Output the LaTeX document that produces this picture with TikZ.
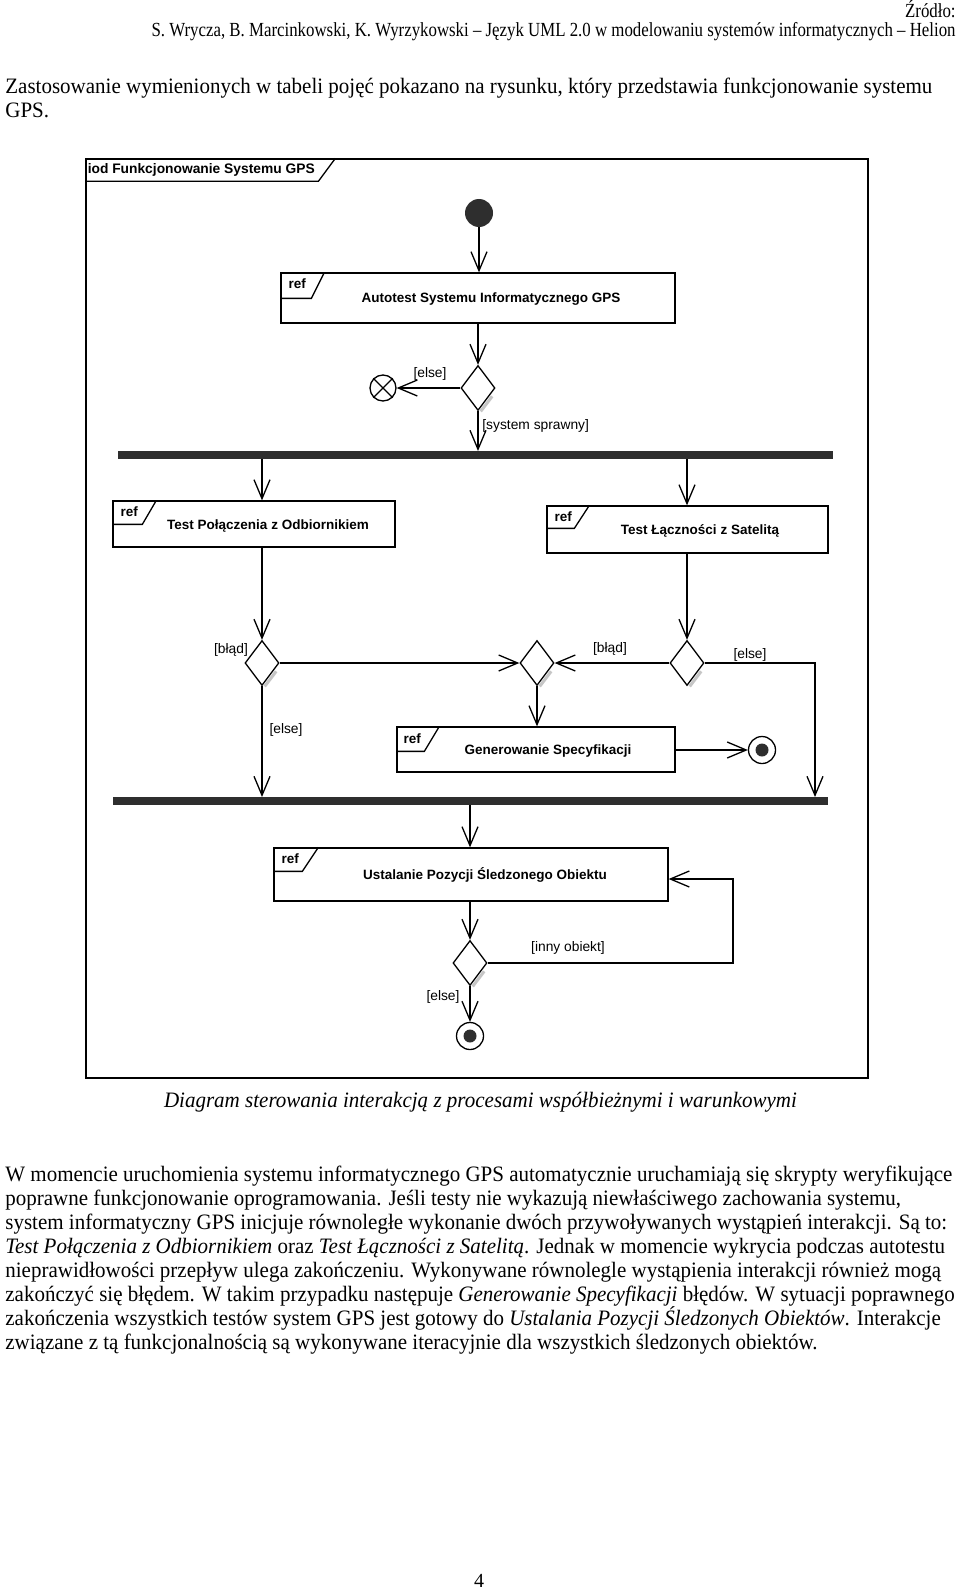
\documentclass[tikz,border=0pt]{standalone}
\usepackage{fontspec}
\setmainfont{Liberation Serif}
\newfontfamily\dg{Liberation Sans}
\usepackage{graphicx}
\usetikzlibrary{arrows.meta,shapes.geometric,calc}
\newsavebox\fitbox
\newlength\fitlen
\newcommand\fitw[2]{\sbox\fitbox{#2}\fitlen=\wd\fitbox\pgfmathsetmacro\fitr{#1/\fitlen}\global\let\lastfitr\fitr\scalebox{\fitr}[1]{\usebox\fitbox}}
\definecolor{barc}{HTML}{2E2E2E}
\tikzset{
  ln/.style={line width=0.65pt},
  arr/.style={ln, -{Straight Barb[length=9.5pt,width=8pt]}},
  refbox/.style={draw, ln, rectangle, inner sep=0pt, fill=white},
  dec/.style={draw, ln, diamond, inner sep=0pt, minimum width=17pt, minimum height=22.5pt, fill=white},
  shadowline/.style={gray!45, line width=1.5pt},
  bar/.style={fill=barc, draw=none, inner sep=0pt, minimum height=3.6pt},
  title/.style={font=\dg\bfseries\fontsize{6.75}{7.75}\selectfont, inner sep=0pt},
  guard/.style={font=\dg\fontsize{6.9}{8}\selectfont, inner sep=0pt},
  body/.style={anchor=base west, inner sep=0pt, font=\fontsize{11}{13}\selectfont},
  hdr/.style={anchor=base east, inner sep=0pt, font=\fontsize{10}{12}\selectfont},
}
\begin{document}
\begin{tikzpicture}[x=0.5pt,y=-0.5pt]
\fill[white] (0,0) rectangle (960,1589);
\useasboundingbox (0,0) rectangle (960,1589);

% ---------- page text ----------
\node[hdr] (src2) at (956,37) {\fitw{402}{S. Wrycza, B. Marcinkowski, K. Wyrzykowski – Język UML 2.0 w modelowaniu systemów informatycznych – Helion}};
\node[hdr] (src1) at (956,18) {\scalebox{\lastfitr}[1]{Źródło:}};

\node[body] (p1a) at (5,94) {\fitw{463.5}{Zastosowanie wymienionych w tabeli pojęć pokazano na rysunku, który przedstawia funkcjonowanie systemu}};
\node[body] (p1b) at (5,118) {\scalebox{\lastfitr}[1]{GPS.}};

% ---------- diagram ----------
\node[draw, ln, rectangle, inner sep=0pt, minimum width=391pt, minimum height=459.5pt] (frame) at (477,618.5) {};
\draw[ln] (frame.north west) ++(250,0) -- ++(-17,23) -- ++(-233,0);
\node[title, anchor=west, font=\dg\bfseries\fontsize{6.9}{8}\selectfont] (ftitle) at ($(frame.north west)+(2,12)$) {iod Funkcjonowanie Systemu GPS};

% initial node
\node[circle, fill=barc, minimum size=14pt, inner sep=0pt] (init) at (479,213) {};

% Autotest
\node[refbox, minimum width=197pt, minimum height=25pt] (auto) at (478,298) {};
\draw[ln] (auto.north west) ++(44,0) -- ++(-13,26) -- ++(-31,0);
\node[title] (autor) at ($(auto.north west)+(17,11)$) {ref};
\node[title] (autot) at ($(auto.center)+(13,1)$) {Autotest Systemu Informatycznego GPS};

% decision 1
\node[dec] (dec1) at (478,388) {};
\draw[shadowline] ($(dec1.east)!0.3!(dec1.south)+(1.8,1.4)$) -- ($(dec1.east)!0.95!(dec1.south)+(1.8,1.4)$);
\node[draw, ln, circle, minimum size=13pt, inner sep=0pt] (ff) at (383,388) {};
\draw[ln] (ff.north east) -- (ff.south west) (ff.north west) -- (ff.south east);
\node[guard] (g1) at (430,374) {[else]};
\node[guard, anchor=west] (g2) at (482,426) {[system sprawny]};

% fork 1
\node[bar, minimum width=357.5pt] (fork1) at (475.5,455) {};

% Test Połączenia
\node[refbox, minimum width=141pt, minimum height=23pt] (tp) at (254,524) {};
\draw[ln] (tp.north west) ++(44,0) -- ++(-14,24) -- ++(-30,0);
\node[title] (tpr) at ($(tp.north west)+(17,11)$) {ref};
\node[title] (tpt) at ($(tp.center)+(14,2)$) {Test Połączenia z Odbiornikiem};

% Test Łączności
\node[refbox, minimum width=140.5pt, minimum height=23.5pt] (tl) at (687.5,529.5) {};
\draw[ln] (tl.north west) ++(43,0) -- ++(-15,23) -- ++(-28,0);
\node[title] (tlr) at ($(tl.north west)+(17,11)$) {ref};
\node[title] (tlt) at ($(tl.center)+(12.5,1)$) {Test Łączności z Satelitą};

% decisions row
\node[dec] (dec2) at (262,663) {};
\node[dec] (merge) at (537,663) {};
\node[dec] (dec3) at (687,663) {};
\foreach \d in {dec2,merge,dec3}{
  \draw[shadowline] ($(\d.east)!0.3!(\d.south)+(1.8,1.4)$) -- ($(\d.east)!0.95!(\d.south)+(1.8,1.4)$);
}
\node[guard] (g3) at (231,650) {[błąd]};
\node[guard] (g4) at (286,730) {[else]};
\node[guard] (g5) at (610,649) {[błąd]};
\node[guard] (g6) at (750,655) {[else]};
\coordinate (elsex) at (815,663);

% Generowanie
\node[refbox, minimum width=139pt, minimum height=22.5pt] (gen) at (536,749.5) {};
\draw[ln] (gen.north west) ++(43,0) -- ++(-15,25) -- ++(-28,0);
\node[title] (genr) at ($(gen.north west)+(16,12)$) {ref};
\node[title] (gent) at ($(gen.center)+(12,2)$) {Generowanie Specyfikacji};
\node[draw, ln, circle, minimum size=13.5pt, inner sep=0pt, fill=white] (fin1) at (762,750) {};
\node[circle, fill=barc, minimum size=6.5pt, inner sep=0pt] (fin1d) at (fin1.center) {};

% fork 2
\node[bar, minimum width=357.5pt] (fork2) at (470.5,801) {};

% Ustalanie
\node[refbox, minimum width=197pt, minimum height=26.5pt] (us) at (471,874.5) {};
\draw[ln] (us.north west) ++(45,0) -- ++(-16,24) -- ++(-29,0);
\node[title] (usr) at ($(us.north west)+(17,11)$) {ref};
\node[title] (ust) at ($(us.center)+(14,0)$) {Ustalanie Pozycji Śledzonego Obiektu};

\node[dec] (dec4) at (470,963) {};
\draw[shadowline] ($(dec4.east)!0.3!(dec4.south)+(1.8,1.4)$) -- ($(dec4.east)!0.95!(dec4.south)+(1.8,1.4)$);
\node[guard] (g7) at (568,948) {[inny obiekt]};
\node[guard] (g8) at (443,997) {[else]};
\coordinate (loopc) at (733,879);
\node[draw, ln, circle, minimum size=13.5pt, inner sep=0pt, fill=white] (fin2) at (470,1036) {};
\node[circle, fill=barc, minimum size=6.5pt, inner sep=0pt] (fin2d) at (fin2.center) {};

% ---------- connectors ----------
\draw[arr] (init.south) -- (init.south |- auto.north);
\draw[arr] (auto.south -| dec1.north) -- (dec1.north);
\draw[arr] (dec1.west) -- (ff.east);
\draw[arr] (dec1.south) -- (dec1.south |- fork1.north);
\draw[arr] (fork1.south -| dec2.north) -- (dec2.north |- tp.north);
\draw[arr] (fork1.south -| dec3.north) -- (dec3.north |- tl.north);
\draw[arr] (tp.south -| dec2.north) -- (dec2.north);
\draw[arr] (tl.south -| dec3.north) -- (dec3.north);
\draw[arr] (dec2.east) -- (merge.west);
\draw[arr] (dec3.west) -- (merge.east);
\draw[arr] (dec3.east) -- (elsex) -- (elsex |- fork2.north);
\draw[arr] (merge.south) -- (merge.south |- gen.north);
\draw[arr] (gen.east |- fin1.west) -- (fin1.west);
\draw[arr] (dec2.south) -- (dec2.south |- fork2.north);
\draw[arr] (fork2.south -| dec4.north) -- (dec4.north |- us.north);
\draw[arr] (us.south -| dec4.north) -- (dec4.north);
\draw[arr] (dec4.east) -| (loopc) -- (loopc -| us.east);
\draw[arr] (dec4.south) -- (fin2.north);

% ---------- caption and body ----------
\node[anchor=base, inner sep=0pt, font=\itshape\fontsize{11}{13}\selectfont] (cap) at (480.5,1107) {\fitw{316.5}{Diagram sterowania interakcją z procesami współbieżnymi i warunkowymi}};

\node[body] (b1) at (5,1181) {\fitw{473.5}{W momencie uruchomienia systemu informatycznego GPS automatycznie uruchamiają się skrypty weryfikujące}\global\let\bodyr\fitr};
\node[body] (b2) at (5,1205) {\scalebox{\bodyr}[1]{poprawne funkcjonowanie oprogramowania. Jeśli testy nie wykazują niewłaściwego zachowania systemu,}};
\node[body] (b3) at (5,1229) {\scalebox{\bodyr}[1]{system informatyczny GPS inicjuje równoległe wykonanie dwóch przywoływanych wystąpień interakcji. Są to:}};
\node[body] (b4) at (5,1253) {\scalebox{\bodyr}[1]{\textit{Test Połączenia z Odbiornikiem} oraz \textit{Test Łączności z Satelitą}. Jednak w momencie wykrycia podczas autotestu}};
\node[body] (b5) at (5,1277) {\scalebox{\bodyr}[1]{nieprawidłowości przepływ ulega zakończeniu. Wykonywane równolegle wystąpienia interakcji również mogą}};
\node[body] (b6) at (5,1301) {\scalebox{\bodyr}[1]{zakończyć się błędem. W takim przypadku następuje \textit{Generowanie Specyfikacji} błędów. W sytuacji poprawnego}};
\node[body] (b7) at (5,1325) {\scalebox{\bodyr}[1]{zakończenia wszystkich testów system GPS jest gotowy do \textit{Ustalania Pozycji Śledzonych Obiektów}. Interakcje}};
\node[body] (b8) at (5,1349) {\scalebox{\bodyr}[1]{związane z tą funkcjonalnością są wykonywane iteracyjnie dla wszystkich śledzonych obiektów.}};

\node[anchor=base, inner sep=0pt, font=\fontsize{10}{12}\selectfont] (pnum) at (479,1587) {4};
\end{tikzpicture}
\end{document}
